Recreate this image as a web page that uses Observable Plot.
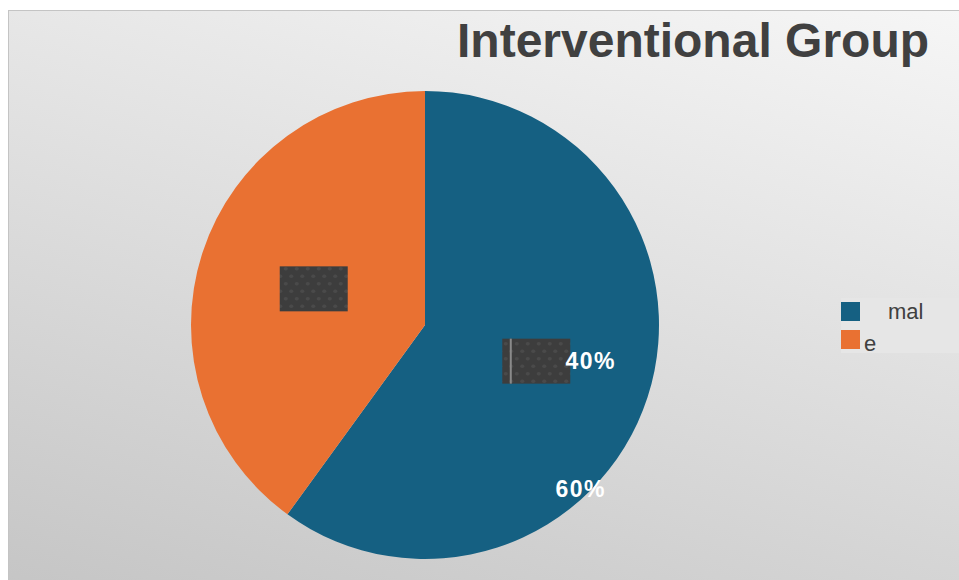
<!DOCTYPE html>
<html><head><meta charset="utf-8">
<script src="https://cdn.jsdelivr.net/npm/d3@7"></script>
<script src="https://cdn.jsdelivr.net/npm/@observablehq/plot@0.6"></script>
<style>
html,body{margin:0;padding:0;width:959px;height:580px;overflow:hidden;background:#fff;font-family:"Liberation Sans",Arial,sans-serif;}
#frame{position:absolute;left:8px;top:10px;width:960px;height:580px;border-left:1px solid #c4c4c4;border-top:1px solid #c4c4c4;background:linear-gradient(195deg,#f6f6f6 0%,#e0e0e0 45%,#c5c5c5 100%);}
#chart{position:absolute;left:8px;top:10px;}
#title{position:absolute;left:457px;top:17px;font-size:48px;font-weight:bold;line-height:1;color:#404040;white-space:nowrap}
#legend{position:absolute;left:841px;top:298px;width:130px;height:55px;background:#e6e6e6;}
.sw{position:absolute;left:0;width:19px;height:19px}
.lt{position:absolute;font-size:22px;line-height:1;color:#404040;white-space:nowrap}
</style>
</head><body>
<div id="frame"></div>
<div id="chart"></div>
<div id="title"></div>
<div id="legend"></div>
<script>
const categories = ["mal", "e"];
const values = [60, 40];
const colors = ["#156082", "#e97132"];
const labelTexts = ["40%", "60%"];
const chartTitle = "Interventional Group";

const data = categories.map((c, i) => ({category: c, value: values[i]}));
const arcs = d3.pie().sort(null).value(d => d.value)(data);
const unitArc = d3.arc().innerRadius(0).outerRadius(1);
const R = 234;
const boxes = arcs.map(a => { const [cx, cy] = unitArc.centroid(a); return {category: a.data.category, x: cx, y: -cy}; });
const hw = 34 / R, hh = 22.5 / R;

function defsMark() {
  const g = d3.create("svg:g");
  const p = g.append("defs").append("pattern").attr("id", "dots")
    .attr("patternUnits", "userSpaceOnUse").attr("width", 11).attr("height", 15);
  p.append("rect").attr("width", 11).attr("height", 15).attr("fill", "#3d3d3d");
  p.append("ellipse").attr("cx", 2.75).attr("cy", 3.75).attr("rx", 2).attr("ry", 1.7).attr("fill", "#4a4a4a");
  p.append("ellipse").attr("cx", 8.25).attr("cy", 11.25).attr("rx", 2).attr("ry", 1.7).attr("fill", "#4a4a4a");
  return g.node();
}

function slicesMark(index, scales) {
  const cx = scales.x(0), cy = scales.y(0), r = scales.x(1) - cx;
  const arc = d3.arc().innerRadius(0).outerRadius(r);
  const g = d3.create("svg:g").attr("transform", `translate(${cx},${cy})`);
  g.selectAll("path").data(arcs).join("path")
    .attr("d", arc)
    .attr("fill", d => (scales.color ? scales.color(d.data.category) : colors[d.index]));
  return g.node();
}

const labelStyle = {fill: "white", fontSize: 23, fontWeight: "bold", fontFamily: "Liberation Sans, Arial, sans-serif"};

const chart = Plot.plot({
  width: 951, height: 570, margin: 0,
  x: {domain: [-1, 1], range: [417 - R, 417 + R], axis: null},
  y: {domain: [-1, 1], range: [315 + R, 315 - R], axis: null},
  color: {domain: categories, range: colors},
  style: {background: "transparent", overflow: "visible"},
  marks: [
    defsMark,
    slicesMark,
    Plot.rect(boxes, {x1: d => d.x - hw, x2: d => d.x + hw, y1: d => d.y - hh, y2: d => d.y + hh, fill: "url(#dots)"}),
    Plot.ruleX([boxes[0]], {x: "x", y1: d => d.y - hh, y2: d => d.y + hh, dx: -26, stroke: "#8a8a8a", strokeWidth: 2}),
    Plot.text([boxes[0]], {x: "x", y: "y", text: () => labelTexts[0], dx: 54, dy: 0, ...labelStyle}),
    Plot.text([boxes[0]], {x: "x", y: "y", text: () => labelTexts[1], dx: 44, dy: 128, ...labelStyle})
  ]
});
d3.select(chart).selectAll("text").attr("letter-spacing", "1.5px");
document.getElementById("chart").appendChild(chart);
document.getElementById("title").textContent = chartTitle;

const legend = d3.select("#legend");
const textLeft = [47, 23];
const textTop = [3, 35];
categories.forEach((c, i) => {
  legend.append("div").attr("class", "sw").style("top", (4 + i * 28) + "px").style("background", colors[i]);
  legend.append("div").attr("class", "lt").style("left", textLeft[i] + "px").style("top", textTop[i] + "px").text(c);
});
</script>
</body></html>
